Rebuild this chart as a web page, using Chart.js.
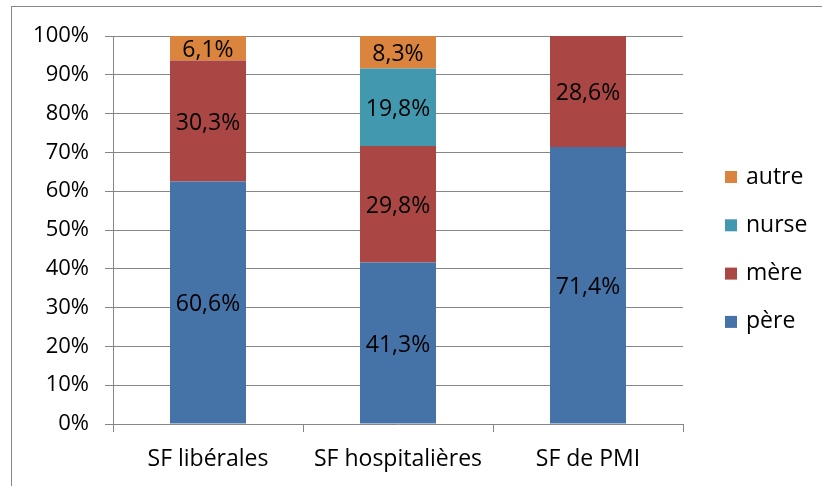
<!DOCTYPE html>
<html>
<head>
<meta charset="utf-8">
<script src="https://cdn.jsdelivr.net/npm/chart.js@4/dist/chart.umd.min.js"></script>
<style>
  html, body { margin: 0; padding: 0; background: #fff; }
  #wrap { position: relative; width: 822px; height: 486px; }
  #frame { position: absolute; left: 11px; top: 6px; width: 811px; height: 480px; border-left: 1px solid #868686; border-top: 1px solid #868686; box-sizing: border-box; pointer-events: none; }
</style>
</head>
<body>
<div id="wrap">
  <canvas id="chart" width="822" height="486"></canvas>
  <div id="frame"></div>
</div>
<script>
var categories = ['SF libérales', 'SF hospitalières', 'SF de PMI'];
var seriesNames = ['père', 'mère', 'nurse', 'autre'];
var seriesColors = ['#4572A7', '#AA4643', '#4198AF', '#DB843D'];
var pere = [60.6, 41.3, 71.4];
var mere = [30.3, 29.8, 28.6];
var nurse = [0, 19.8, 0];
var autre = [6.1, 8.3, 0];
var yTicks = [0, 10, 20, 30, 40, 50, 60, 70, 80, 90, 100];

var raw = [pere, mere, nurse, autre];
var FONT = '"Open Sans"';
var FSIZE = 23;

// 100% stacked: each column is scaled to its own total
var totals = categories.map(function (c, i) {
    return raw.reduce(function (s, arr) { return s + arr[i]; }, 0);
});

var datasets = raw.map(function (arr, k) {
    return {
        label: seriesNames[k],
        data: arr.map(function (v, i) { return v / totals[i] * 100; }),
        rawValues: arr,
        backgroundColor: seriesColors[k],
        borderWidth: 0,
        barPercentage: 0.4,
        categoryPercentage: 1.0
    };
});

var labelsPlugin = {
    id: 'segLabels',
    afterDatasetsDraw: function (chart) {
        var ctx = chart.ctx;
        ctx.save();
        ctx.font = FSIZE + 'px ' + FONT;
        ctx.fillStyle = '#000';
        ctx.textAlign = 'center';
        ctx.textBaseline = 'middle';
        chart.data.datasets.forEach(function (ds, k) {
            var meta = chart.getDatasetMeta(k);
            meta.data.forEach(function (bar, i) {
                var v = ds.rawValues[i];
                if (!v) return;
                var yMid = (bar.y + bar.base) / 2;
                ctx.fillText(v.toFixed(1).replace('.', ',') + '%', bar.x, yMid + 2);
            });
        });
        ctx.restore();
    }
};

var legendPlugin = {
    id: 'sideLegend',
    afterDraw: function (chart) {
        var ctx = chart.ctx;
        var ds = chart.data.datasets;
        var x = chart.chartArea.right + 42;
        var y0 = 177, step = 48.3;
        ctx.save();
        ctx.font = FSIZE + 'px ' + FONT;
        ctx.textBaseline = 'middle';
        ctx.textAlign = 'left';
        for (var n = 0; n < ds.length; n++) {
            var k = ds.length - 1 - n;
            var y = y0 + n * step;
            ctx.fillStyle = ds[k].backgroundColor;
            ctx.fillRect(x, y - 6, 12, 12);
            ctx.fillStyle = '#000';
            ctx.fillText(ds[k].label, x + 21, y);
        }
        ctx.restore();
    }
};

new Chart(document.getElementById('chart').getContext('2d'), {
    type: 'bar',
    data: { labels: categories, datasets: datasets },
    options: {
        responsive: false,
        animation: false,
        layout: { padding: { left: 0, top: 36, right: 139, bottom: 0 } },
        plugins: { legend: { display: false }, tooltip: { enabled: false } },
        scales: {
            x: {
                stacked: true,
                grid: { offset: true, drawOnChartArea: false, color: '#868686', tickLength: 8, lineWidth: 1 },
                border: { display: false },
                ticks: { color: '#000', font: { family: 'Open Sans', size: FSIZE }, padding: 14, maxRotation: 0 },
                afterFit: function (s) { s.height = 62; }
            },
            y: {
                stacked: true,
                min: 0, max: 100,
                afterBuildTicks: function (s) { s.ticks = yTicks.map(function (v) { return { value: v }; }); },
                grid: { color: '#868686', tickLength: 8, lineWidth: 1 },
                border: { color: '#868686' },
                ticks: {
                    color: '#000', font: { family: 'Open Sans', size: FSIZE - 1 }, padding: 16,
                    callback: function (v) { return v + '%'; }
                },
                afterFit: function (s) { s.width = 113; }
            }
        }
    },
    plugins: [labelsPlugin, legendPlugin]
});
</script>
</body>
</html>
